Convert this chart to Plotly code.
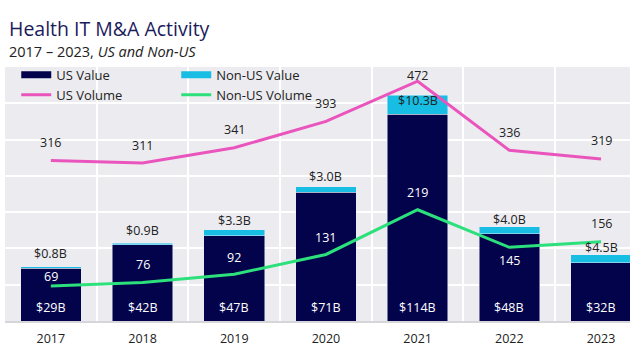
import plotly.graph_objects as go

years = [2017, 2018, 2019, 2020, 2021, 2022, 2023]
us_value = [29, 42, 47, 71, 114, 48, 32]
nonus_value = [0.8, 0.9, 3.3, 3.0, 10.3, 4.0, 4.5]
us_volume = [316, 311, 341, 393, 472, 336, 319]
nonus_volume = [69, 76, 92, 131, 219, 145, 156]

us_value_labels = ["$29B", "$42B", "$47B", "$71B", "$114B", "$48B", "$32B"]
nonus_value_labels = ["$0.8B", "$0.9B", "$3.3B", "$3.0B", "$10.3B", "$4.0B", "$4.5B"]

NAVY = "#03034B"
LBLUE = "#17BDE3"
PINK = "#E955BD"
GREEN = "#2CE07C"
BG = "#ECECF0"
FONT = "Open Sans"
TXT = "#222222"

# label styling (pixel offsets)
nonus_val_shift = [13, 13, 9, 10, -5, 7, 7]
us_vol_shift = [18, 18, 18, 18, 6, 18, 18]
nonus_vol_shift = [9, 18, 17, 17, 17, -13, 18]
nonus_vol_color = ["white"] * 6 + [TXT]

fig = go.Figure()
fig.add_trace(go.Bar(x=years, y=us_value, marker_color=NAVY, width=0.66,
                     name="US Value", showlegend=False))
fig.add_trace(go.Bar(x=years, y=nonus_value, marker_color=LBLUE, width=0.66,
                     name="Non-US Value", showlegend=False))
fig.add_trace(go.Scatter(x=years, y=us_volume, mode="lines", yaxis="y2",
                         line=dict(color=PINK, width=3), name="US Volume",
                         legend="legend", legendrank=2))
fig.add_trace(go.Scatter(x=years, y=nonus_volume, mode="lines", yaxis="y2",
                         line=dict(color=GREEN, width=3), name="Non-US Volume",
                         legend="legend2", legendrank=2))
# legend-only entries for the bars (wide swatches)
fig.add_trace(go.Scatter(x=[None], y=[None], mode="lines", name="US Value",
                         line=dict(color=NAVY, width=7), legend="legend",
                         legendrank=1))
fig.add_trace(go.Scatter(x=[None], y=[None], mode="lines", name="Non-US Value",
                         line=dict(color=LBLUE, width=7), legend="legend2",
                         legendrank=1))

ann = []
for i, yr in enumerate(years):
    ann.append(dict(x=yr, y=0, yref="y", text=us_value_labels[i], showarrow=False,
                    yshift=14, font=dict(color="white", size=12.5, family=FONT)))
    ann.append(dict(x=yr, y=us_value[i] + nonus_value[i], yref="y",
                    text=nonus_value_labels[i], showarrow=False,
                    yshift=nonus_val_shift[i], font=dict(color=TXT, size=12.5, family=FONT)))
    ann.append(dict(x=yr, y=us_volume[i], yref="y2", text=str(us_volume[i]),
                    showarrow=False, yshift=us_vol_shift[i],
                    font=dict(color=TXT, size=12.5, family=FONT)))
    ann.append(dict(x=yr, y=nonus_volume[i], yref="y2", text=str(nonus_volume[i]),
                    showarrow=False, yshift=nonus_vol_shift[i],
                    font=dict(color=nonus_vol_color[i], size=12.5, family=FONT)))

ann.append(dict(xref="paper", yref="paper", x=0, y=1, xshift=2, yshift=39,
                xanchor="left", yanchor="middle", showarrow=False,
                text="Health IT M&A Activity",
                font=dict(color="#1B1A5C", size=19.5, family=FONT)))
ann.append(dict(xref="paper", yref="paper", x=0, y=1, xshift=2, yshift=15.5,
                xanchor="left", yanchor="middle", showarrow=False,
                text="2017 – 2023, <i>US and Non-US</i>",
                font=dict(color=TXT, size=14.5, family=FONT)))

fig.update_layout(
    width=630, height=350,
    margin=dict(l=5, r=0, t=67, b=29),
    paper_bgcolor="white", plot_bgcolor=BG,
    barmode="stack", bargap=0.34,
    font=dict(family=FONT, color=TXT, size=12.5),
    annotations=ann,
    xaxis=dict(range=[2016.5, 2023.316], tickmode="array", tickvals=years,
               ticktext=[str(y) for y in years], showgrid=False,
               ticks="outside", ticklen=5, tickcolor="rgba(0,0,0,0)",
               showline=True, linecolor="#D6D6DA", linewidth=1.5,
               tickfont=dict(size=12.5, color=TXT),
               minor=dict(tickmode="array",
                          tickvals=[y + 0.5 for y in years[:-1]],
                          showgrid=True, gridcolor="white", gridwidth=1.5,
                          ticks="")),
    yaxis=dict(range=[0, 140], dtick=20, showgrid=True, gridcolor="white",
               gridwidth=1.5, showticklabels=False, zeroline=False),
    yaxis2=dict(range=[0, 500], overlaying="y", showgrid=False,
                showticklabels=False, zeroline=False),
    legend=dict(x=0.018, y=1.028, xanchor="left", yanchor="top",
                bgcolor="rgba(0,0,0,0)", traceorder="normal",
                font=dict(size=13, color=TXT), tracegroupgap=0, itemwidth=30),
    legend2=dict(x=0.274, y=1.028, xanchor="left", yanchor="top",
                 bgcolor="rgba(0,0,0,0)", traceorder="normal",
                 font=dict(size=13, color=TXT), tracegroupgap=0, itemwidth=30),
    shapes=[dict(type="rect", xref="paper", yref="paper", x0=0, x1=0.5, y0=0.86, y1=1,
                 fillcolor=BG, line=dict(width=0), layer="between")],
)

fig.write_html("out.html")
